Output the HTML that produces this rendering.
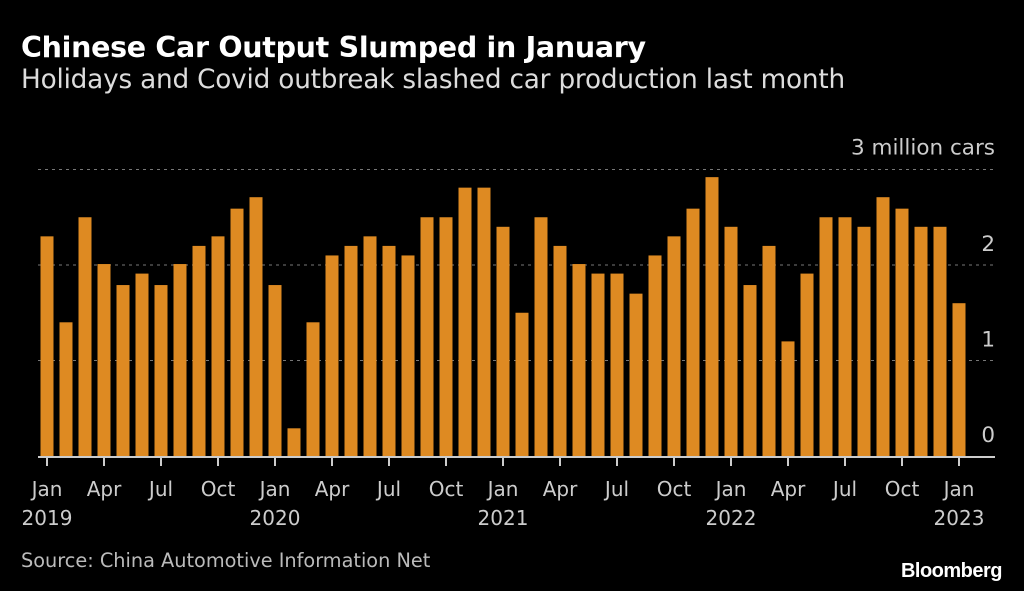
<!DOCTYPE html>
<html><head><meta charset="utf-8"><style>
body{margin:0;background:#000;width:1024px;height:591px;overflow:hidden;font-family:"DejaVu Sans",sans-serif;color:#fff}
.t{position:absolute;white-space:nowrap}
</style></head><body>
<div class="t" style="left:21px;top:31px;font-size:28.5px;font-weight:bold;letter-spacing:-0.3px">Chinese Car Output Slumped in January</div>
<div class="t" style="left:21px;top:65px;font-size:26.3px;color:#ddd;letter-spacing:-0.2px">Holidays and Covid outbreak slashed car production last month</div>
<svg width="1024" height="591" style="position:absolute;left:0;top:0">
<g id="grid"></g><g id="bars"></g><g id="axis"></g>
</svg>
<div class="t" style="left:21px;top:549px;font-size:19.3px;color:#bbb">Source: China Automotive Information Net</div>
<div class="t" style="right:22px;top:560px;font-size:20px;font-weight:bold;letter-spacing:-0.5px;font-family:'Liberation Sans',sans-serif">Bloomberg</div>
<script>
const values=[2.30,1.40,2.50,2.01,1.79,1.91,1.79,2.01,2.20,2.30,2.59,2.71,
1.79,0.29,1.40,2.10,2.20,2.30,2.20,2.10,2.50,2.50,2.81,2.81,
2.40,1.50,2.50,2.20,2.01,1.91,1.91,1.70,2.10,2.30,2.59,2.92,
2.40,1.79,2.20,1.20,1.91,2.50,2.50,2.40,2.71,2.59,2.40,2.40,
1.60];
const yTicks=[0,1,2,3];
const yTickLabels=["0","1","2","3 million cars"];
const monthLabels=["Jan","Apr","Jul","Oct"];
const yearLabels=["2019","2020","2021","2022","2023"];
const NS="http://www.w3.org/2000/svg";
const y0=456,ppu=95.5,x0=47,step=19,bw=13;
const Y=v=>y0-v*ppu, X=i=>x0+i*step;
function mk(tag,attrs,parent,txt){const e=document.createElementNS(NS,tag);for(const k in attrs)e.setAttribute(k,attrs[k]);if(txt!==undefined)e.textContent=txt;document.getElementById(parent).appendChild(e);return e;}
yTicks.forEach((t,i)=>{
 if(t>0){const g=mk('line',{x1:38,x2:995,y1:Y(t),y2:Y(t),stroke:'#777','stroke-dasharray':'3,4','stroke-width':1},'grid');
 
 }
 const ty=t===3?Y(t)-15:Y(t)-14;
 const l=mk('text',{x:995,y:ty,'text-anchor':'end','font-size':21.5,fill:'#ccc','font-family':'DejaVu Sans'},'grid',yTickLabels[i]);
 
 
});
values.forEach((v,i)=>{
 const r=mk('rect',{x:X(i)-bw/2,y:Y(v),width:bw,height:v*ppu,fill:'#de8a22'},'bars');
 
 
});
const ax=mk('line',{x1:38,x2:995,y1:y0+1,y2:y0+1,stroke:'#ccc','stroke-width':2},'axis');


for(let i=0;i<values.length;i+=3){
 const tk=mk('line',{x1:X(i),x2:X(i),y1:y0+1,y2:y0+10,stroke:'#ccc','stroke-width':2},'axis');
 
 
 const lb=mk('text',{x:X(i),y:496,'text-anchor':'middle','font-size':20,fill:'#ccc','font-family':'DejaVu Sans'},'axis',monthLabels[(i/3)%4]);
 
 
 if(i%12===0){const yl=mk('text',{x:X(i),y:525,'text-anchor':'middle','font-size':20,fill:'#ccc','font-family':'DejaVu Sans'},'axis',yearLabels[i/12]);
 
 }
}
</script>
</body></html>
